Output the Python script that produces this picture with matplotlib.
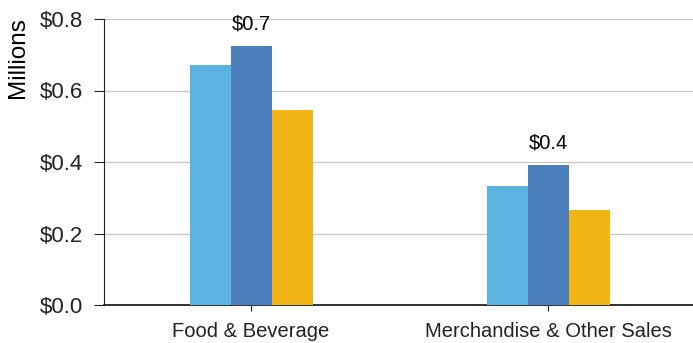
import matplotlib.pyplot as plt
import numpy as np

# ----- DATA (millions) -----
categories = ["Food & Beverage", "Merchandise & Other Sales"]
series_a = [0.671, 0.333]   # light blue
series_b = [0.724, 0.392]   # mid blue (labelled)
series_c = [0.545, 0.266]   # gold
y_ticks = [0.0, 0.2, 0.4, 0.6, 0.8]

colors = ["#5bb3df", "#4b80bd", "#f1b515"]

plt.rcParams['font.family'] = ['Liberation Sans', 'DejaVu Sans']

fig = plt.figure(figsize=(6.93, 3.43), dpi=100)
ax = fig.add_axes([104/693, 1 - 305/343, 1 - 104/693, 286/343])

x = np.arange(len(categories))
w = 0.138
ax.bar(x - w, series_a, w, color=colors[0], zorder=3)
ax.bar(x, series_b, w, color=colors[1], zorder=3)
ax.bar(x + w, series_c, w, color=colors[2], zorder=3)

# value labels on the middle bars
for xi, v in zip(x, series_b):
    ax.text(xi, v + 0.035, f"${v:.1f}", ha='center', va='bottom', fontsize=14.5)

ax.set_xlim(-0.495, 1.488)
ax.set_ylim(0, 0.8)
ax.set_yticks(y_ticks)
ax.set_yticklabels([f"${t:.1f}" for t in y_ticks], fontsize=16)
ax.set_xticks(x)
ax.set_xticklabels(categories, fontsize=14.5)
ax.set_ylabel("Millions", fontsize=17.5)
ax.yaxis.set_label_coords(-0.128, 0.865)

ax.grid(axis='y', color='#c9c6bd', linewidth=0.9, zorder=0)
for s in ['top', 'right']:
    ax.spines[s].set_visible(False)
ax.spines['left'].set_color('#222222')
ax.spines['bottom'].set_color('#222222')
ax.spines['bottom'].set_linewidth(1.3)
ax.tick_params(axis='y', length=7, direction='out', pad=8, colors='#222222')
ax.tick_params(axis='x', length=4, direction='out', pad=8, colors='#222222')

fig.savefig("out.png", dpi=100)
